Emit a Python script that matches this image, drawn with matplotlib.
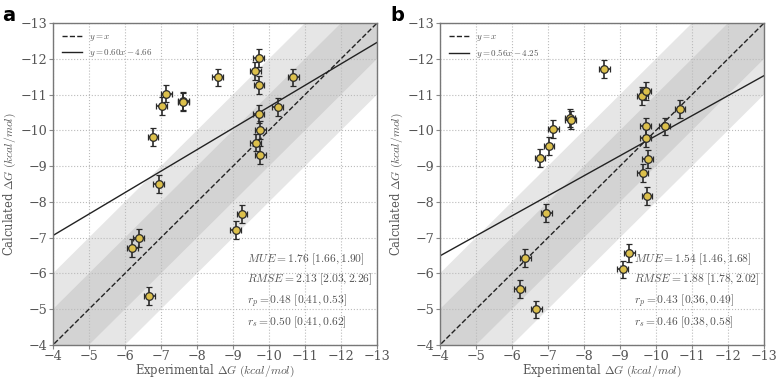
import matplotlib
matplotlib.use("Agg")
import matplotlib.pyplot as plt
import numpy as np

plt.rcParams['font.family'] = ['DejaVu Serif']
plt.rcParams['mathtext.fontset'] = 'cm'

# Panel a
exp_a = [-6.78, -7.02, -7.15, -7.62, -7.62, -8.57, -9.62, -9.71, -9.72, -10.67, -10.24,
         -9.71, -9.76, -9.63, -9.76, -6.94, -9.25, -9.07, -6.38, -6.20, -6.67]
calc_a = [-9.81, -10.68, -11.03, -10.82, -10.80, -11.48, -11.66, -12.03, -11.27, -11.48, -10.66,
          -10.47, -10.02, -9.66, -9.32, -8.51, -7.66, -7.21, -6.98, -6.70, -5.36]
# Panel b
exp_b = [-8.56, -9.62, -9.71, -10.67, -10.24, -9.71, -9.71, -9.77, -9.63, -7.61, -7.63,
         -7.15, -7.03, -6.78, -9.75, -6.95, -9.26, -9.07, -6.37, -6.21, -6.68]
calc_b = [-11.72, -10.96, -11.09, -10.61, -10.11, -10.11, -9.78, -9.20, -8.80, -10.34, -10.28,
          -10.04, -9.56, -9.23, -8.17, -7.68, -6.56, -6.11, -6.44, -5.56, -4.99]

xerr_val = 0.15
yerr_val = 0.25

fits = [(0.60, -4.66), (0.56, -4.25)]
fit_labels = [r'$y = 0.60x - 4.66$', r'$y = 0.56x - 4.25$']
stats = [
    [r'$MUE = 1.76\ [1.66, 1.90]$', r'$RMSE = 2.13\ [2.03, 2.26]$',
     r'$r_p = 0.48\ [0.41, 0.53]$', r'$r_s = 0.50\ [0.41, 0.62]$'],
    [r'$MUE = 1.54\ [1.46, 1.68]$', r'$RMSE = 1.88\ [1.78, 2.02]$',
     r'$r_p = 0.43\ [0.36, 0.49]$', r'$r_s = 0.46\ [0.38, 0.58]$'],
]
panel_letters = ['a', 'b']
ticks = [-4, -5, -6, -7, -8, -9, -10, -11, -12, -13]

fig = plt.figure(figsize=(7.76, 3.79), dpi=100)
axes = [fig.add_axes([0.0683, 0.090, 0.4175, 0.849]),
        fig.add_axes([0.5670, 0.090, 0.4175, 0.849])]

data = [(exp_a, calc_a), (exp_b, calc_b)]
xx = np.linspace(-3, -14, 50)
txt_col = '#555555'

for i, ax in enumerate(axes):
    ex, ca = data[i]
    ax.fill_between(xx, xx - 2, xx + 2, color='#e6e6e6', lw=0, zorder=0)
    ax.fill_between(xx, xx - 1, xx + 1, color='#d3d3d3', lw=0, zorder=0)
    ax.plot(xx, xx, ls='--', color='#222222', lw=1.0, label=r'$y = x$', zorder=2)
    m, c = fits[i]
    ax.plot(xx, m * xx + c, ls='-', color='#222222', lw=1.0, label=fit_labels[i], zorder=2)
    ax.errorbar(ex, ca, xerr=xerr_val, yerr=yerr_val, fmt='o', ms=5.5,
                mfc='#dcc04c', mec='#2a2a2a', mew=0.9, ecolor='#2a2a2a',
                elinewidth=1.2, capsize=2, capthick=1.0, zorder=3)
    ax.set_xlim(-4, -13)
    ax.set_ylim(-4, -13)
    ax.set_xticks(ticks)
    ax.set_yticks(ticks)
    ax.grid(True, ls=':', color='#bbbbbb', lw=0.8, zorder=1)
    ax.set_axisbelow(True)
    for s in ax.spines.values():
        s.set_color('#777777')
        s.set_linewidth(1.0)
    ax.tick_params(length=3, width=0.8, color='#888888', labelsize=9.2,
                   labelcolor=txt_col, pad=0.8)
    ax.set_xlabel(r'Experimental $\Delta G$ $(kcal/mol)$', fontsize=8.3, color=txt_col)
    ax.set_ylabel(r'Calculated $\Delta G$ $(kcal/mol)$', fontsize=8.3, color=txt_col)
    ax.xaxis.set_label_coords(0.5, -0.055)
    ax.yaxis.set_label_coords(-0.108, 0.5)
    leg = ax.legend(loc='upper left', fontsize=6.5, frameon=False, handlelength=2.2,
                    borderaxespad=0.6, labelspacing=0.45)
    for t in leg.get_texts():
        t.set_color(txt_col)
    ax.text(0.60, 0.045, '\n'.join(stats[i]), transform=ax.transAxes, fontsize=8.3,
            color=txt_col, ha='left', va='bottom', linespacing=1.45)
    fig.text(0.003 + 0.5 * i, 0.985, panel_letters[i], fontsize=14, fontweight='bold',
             family='DejaVu Sans', ha='left', va='top')

fig.savefig('out.png', dpi=100)
